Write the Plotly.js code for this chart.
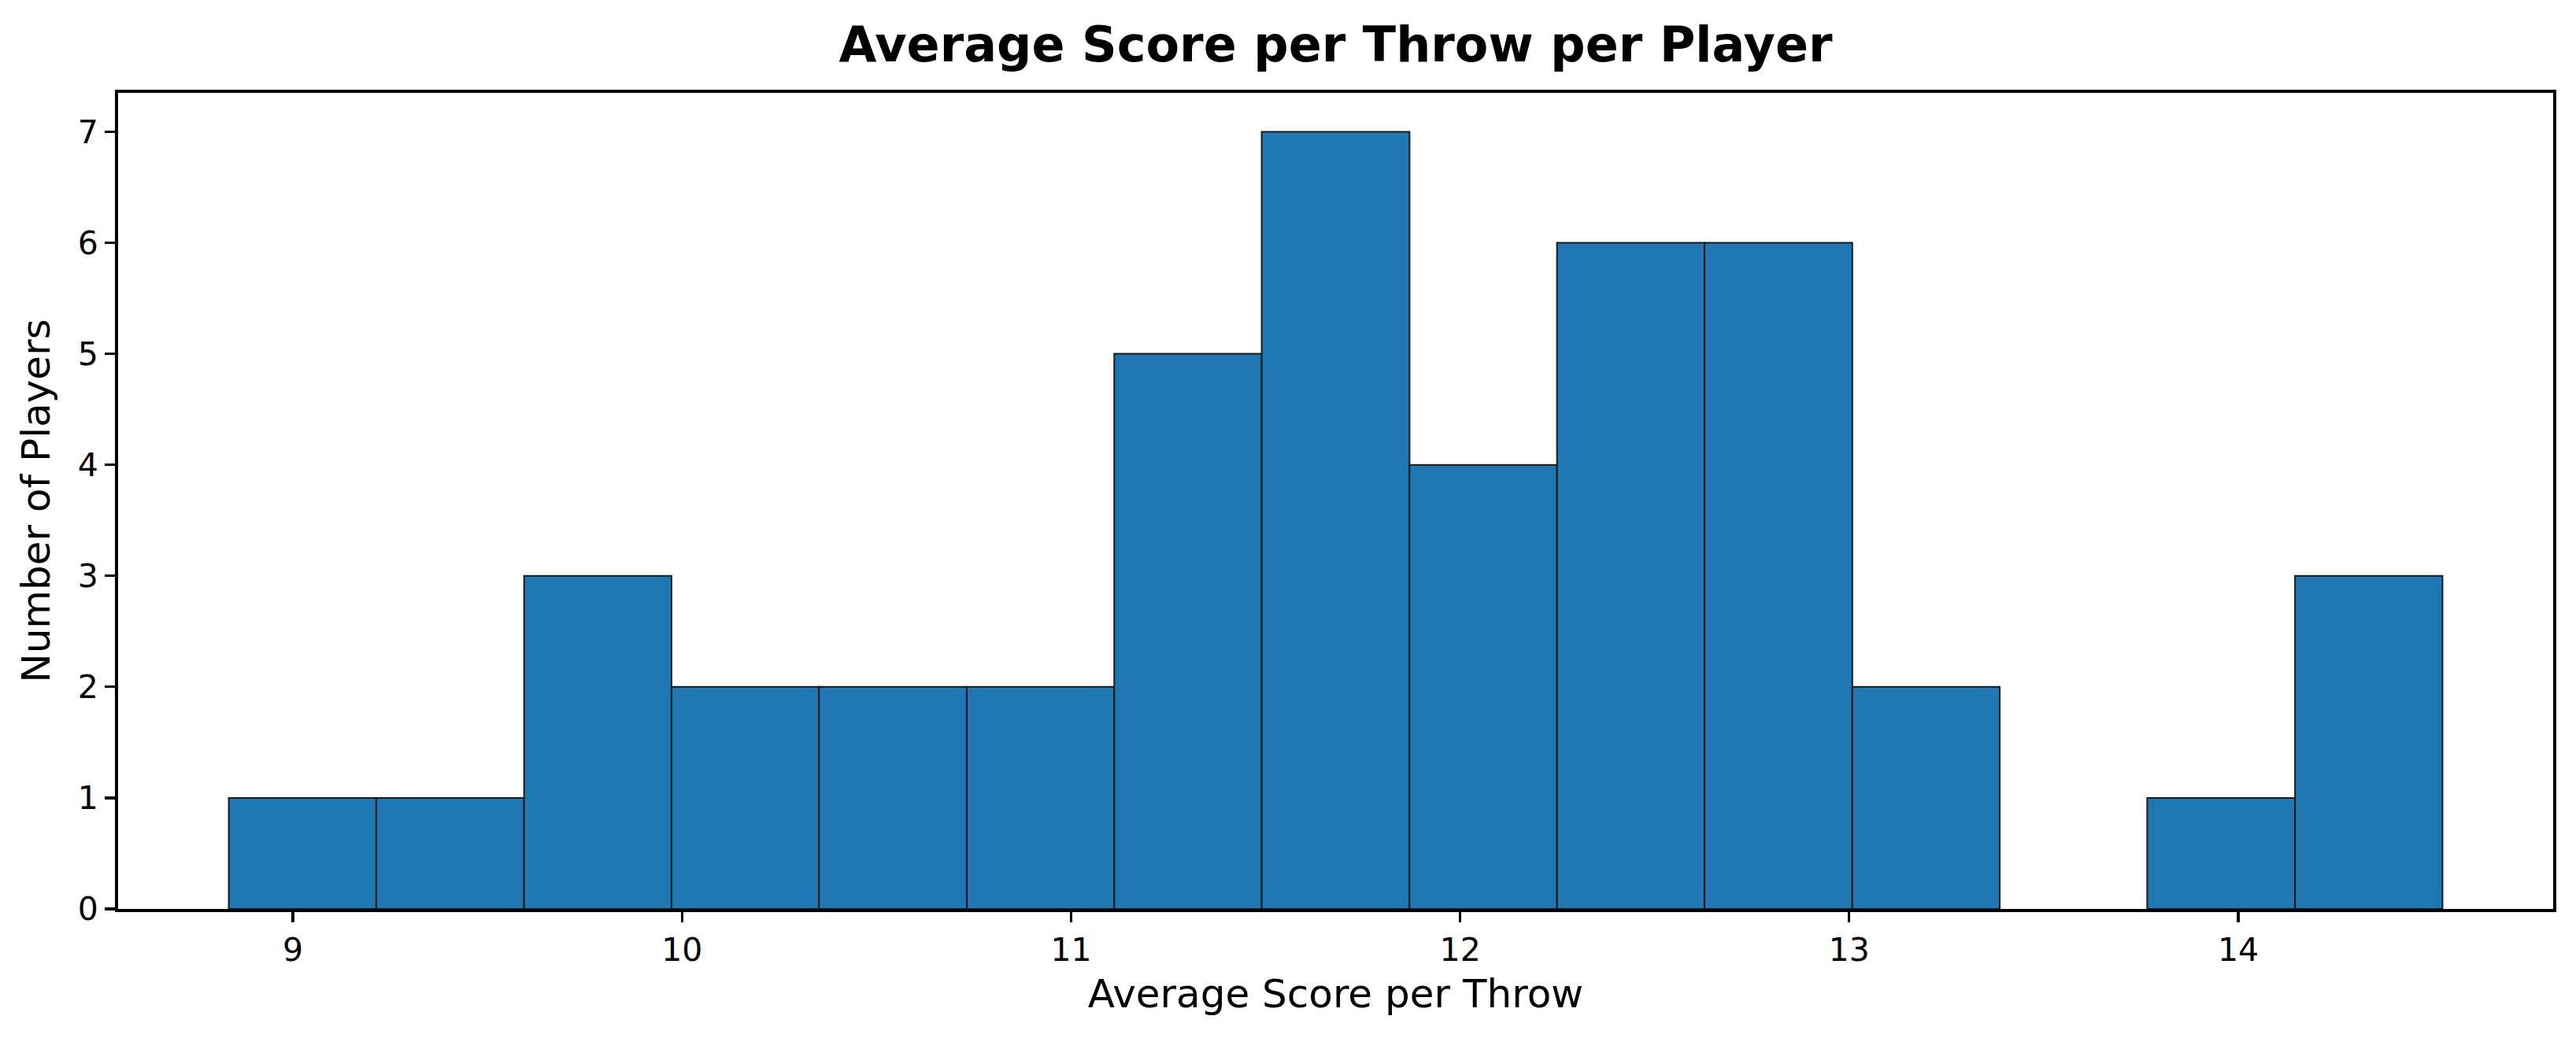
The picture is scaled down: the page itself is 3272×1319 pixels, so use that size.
<!DOCTYPE html>
<html>
<head>
<meta charset="utf-8">
<script src="https://cdn.plot.ly/plotly-3.0.1.min.js"></script>
<style>
  html, body { margin: 0; padding: 0; background: #ffffff; }
  #grafico { width: 3272px; height: 1319px; }
</style>
</head>
<body>
<div id="grafico"></div>
<script>
// bin edges (average score per throw)
const binEdges = [8.835, 9.214, 9.594, 9.973, 10.352, 10.732, 11.111, 11.490,
                  11.870, 12.249, 12.628, 13.008, 13.387, 13.766, 14.146, 14.525];
// number of players in each bin
const counts = [1, 1, 3, 2, 2, 2, 5, 7, 4, 6, 6, 2, 0, 1, 3];
const xTicks = [9, 10, 11, 12, 13, 14];
const yTicks = [0, 1, 2, 3, 4, 5, 6, 7];

const centros = counts.map((c, i) => (binEdges[i] + binEdges[i + 1]) / 2);
const larguras = counts.map((c, i) => binEdges[i + 1] - binEdges[i]);
// empty bins get no outline (matplotlib draws nothing there)
const bordas = counts.map(c => (c > 0 ? 2 : 0));

const fonte = "DejaVu Sans, Liberation Sans, sans-serif";

const eixoBase = {
  showline: true,
  mirror: true,
  linecolor: "#000000",
  linewidth: 4,
  showgrid: false,
  zeroline: false,
  ticks: "outside",
  ticklen: 13,
  tickwidth: 3.3,
  tickcolor: "#000000",
  tickfont: { family: fonte, size: 41, color: "#000000" }
};

const trace = {
  type: "bar",
  x: centros,
  y: counts,
  width: larguras,
  marker: { color: "#1f77b4", line: { color: "#1a1a1a", width: bordas } },
  hoverinfo: "skip"
};

const layout = {
  width: 3272,
  height: 1319,
  paper_bgcolor: "#ffffff",
  plot_bgcolor: "#ffffff",
  margin: { l: 150, r: 29, t: 118, b: 164 },
  showlegend: false,
  bargap: 0,
  title: {
    text: "<b>Average Score per Throw per Player</b>",
    font: { family: fonte, size: 62, color: "#000000" },
    x: 0.5,
    xref: "paper",
    xanchor: "center",
    y: 1 - 56 / 1319,
    yref: "container",
    yanchor: "middle"
  },
  xaxis: {
    ...eixoBase,
    range: [8.5505, 14.8095],
    tickvals: xTicks,
    ticktext: xTicks.map(String),
    title: { text: "Average Score per Throw", font: { family: fonte, size: 50, color: "#000000" }, standoff: 16 }
  },
  yaxis: {
    ...eixoBase,
    range: [0, 7.35],
    tickvals: yTicks,
    ticktext: yTicks.map(String),
    title: { text: "Number of Players", font: { family: fonte, size: 50, color: "#000000" }, standoff: 20 }
  }
};

Plotly.newPlot("grafico", [trace], layout, { staticPlot: true, displayModeBar: false });
</script>
</body>
</html>
